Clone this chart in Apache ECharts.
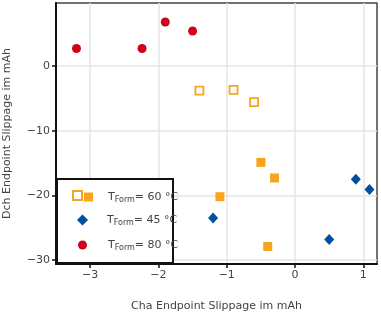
<!DOCTYPE html>
<html><head><meta charset="utf-8">
<script src="https://cdn.jsdelivr.net/npm/echarts@6/dist/echarts.min.js"></script>
<style>html,body{margin:0;padding:0;background:#fff}#c{width:381px;height:313px}</style>
</head><body><div id="c"></div>
<script>
const xTicks = [-3, -2, -1, 0, 1];
const yTicks = [-30, -20, -10, 0];
const s60Open = [[-1.40, -3.8], [-0.90, -3.7], [-0.60, -5.6]];
const s60Fill = [[-0.50, -14.9], [-0.30, -17.3], [-1.10, -20.2], [-0.40, -27.9]];
const s45 = [[-1.20, -23.5], [0.50, -26.8], [0.89, -17.5], [1.09, -19.1]];
const s80 = [[-3.20, 2.7], [-2.24, 2.7], [-1.90, 6.8], [-1.50, 5.4]];
const labels = ['T_Form= 60 °C', 'T_Form= 45 °C', 'T_Form= 80 °C'];

const ORANGE = '#f7a51c', BLUE = '#0050a0', RED = '#d0021b';
const FONT = 'DejaVu Sans';
const fmtNum = v => String(v).replace('-', '\u2212');
function richLabel(s) {
  const p = s.split('_');
  const rest = p[1].split('=');
  return '{a|' + p[0] + '}{s|' + rest[0] + '}{b|=' + rest[1] + '}';
}
function rich(pad) {
  return {
    a: {fontSize: 11, color: '#444', fontFamily: FONT, padding: [0, 0, 0, pad], lineHeight: 14},
    s: {fontSize: 8, color: '#444', fontFamily: FONT, lineHeight: 14, verticalAlign: 'bottom', padding: [6, 0, 0, 0]},
    b: {fontSize: 11, color: '#444', fontFamily: FONT, lineHeight: 14}
  };
}
const chart = echarts.init(document.getElementById('c'), null, {renderer: 'canvas'});
function leg(name, left, top, w, h, text, pad) {
  return {
    data: [name], left: left, top: top, itemWidth: w, itemHeight: h, padding: 0,
    selectedMode: false, z: 10,
    formatter: () => text ? richLabel(text) : '',
    textStyle: {rich: rich(pad)}
  };
}
const axisCommon = {
  type: 'value', nameLocation: 'middle',
  nameTextStyle: {fontSize: 11, color: '#444', fontFamily: FONT},
  axisLine: {show: true, onZero: false, lineStyle: {color: '#111', width: 2}},
  splitLine: {show: true, lineStyle: {color: '#e6e6e6', width: 1.5}}
};
chart.setOption({
  animation: false,
  grid: {left: 56, right: 4, top: 3, bottom: 49, outerBoundsMode: 'none', containLabel: false,
         show: true, borderColor: '#444', borderWidth: 1.5, backgroundColor: 'transparent'},
  xAxis: Object.assign({}, axisCommon, {
    min: -3.5, max: 1.2,
    name: 'Cha Endpoint Slippage im mAh', nameGap: 37,
    axisTick: {show: true, length: 4, lineStyle: {color: '#111', width: 1.5}, customValues: xTicks},
    axisLabel: {customValues: xTicks, formatter: fmtNum, fontSize: 11, color: '#444', fontFamily: FONT, margin: 6}
  }),
  yAxis: Object.assign({}, axisCommon, {
    min: -30.6, max: 9.73,
    name: 'Dch Endpoint Slippage im mAh', nameGap: 43,
    axisTick: {show: true, length: 4, lineStyle: {color: '#111', width: 1.5}, customValues: yTicks},
    axisLabel: {customValues: yTicks, formatter: fmtNum, fontSize: 11, color: '#444', fontFamily: FONT, margin: 6}
  }),
  graphic: [{
    type: 'rect', z: 5, shape: {x: 57, y: 179, width: 116, height: 84},
    style: {fill: '#fff', stroke: '#111', lineWidth: 2}
  }],
  legend: [
    leg('60o', 72, 190, 9, 9, '', 0),
    leg('60f', 84, 190, 9, 9, labels[0], 10),
    leg('45', 77, 213, 11, 11, labels[1], 14),
    leg('80', 78, 238, 9, 9, labels[2], 16)
  ],
  series: [
    {name: '60o', type: 'scatter', data: s60Open, symbol: 'rect', symbolSize: 8,
     itemStyle: {color: '#fff', borderColor: ORANGE, borderWidth: 1.8, opacity: 1}},
    {name: '60f', type: 'scatter', data: s60Fill, symbol: 'rect', symbolSize: 9,
     itemStyle: {color: ORANGE, opacity: 1}},
    {name: '45', type: 'scatter', data: s45, symbol: 'diamond', symbolSize: [10, 11],
     itemStyle: {color: BLUE, opacity: 1}},
    {name: '80', type: 'scatter', data: s80, symbol: 'circle', symbolSize: 9,
     itemStyle: {color: RED, opacity: 1}}
  ]
});
</script></body></html>
